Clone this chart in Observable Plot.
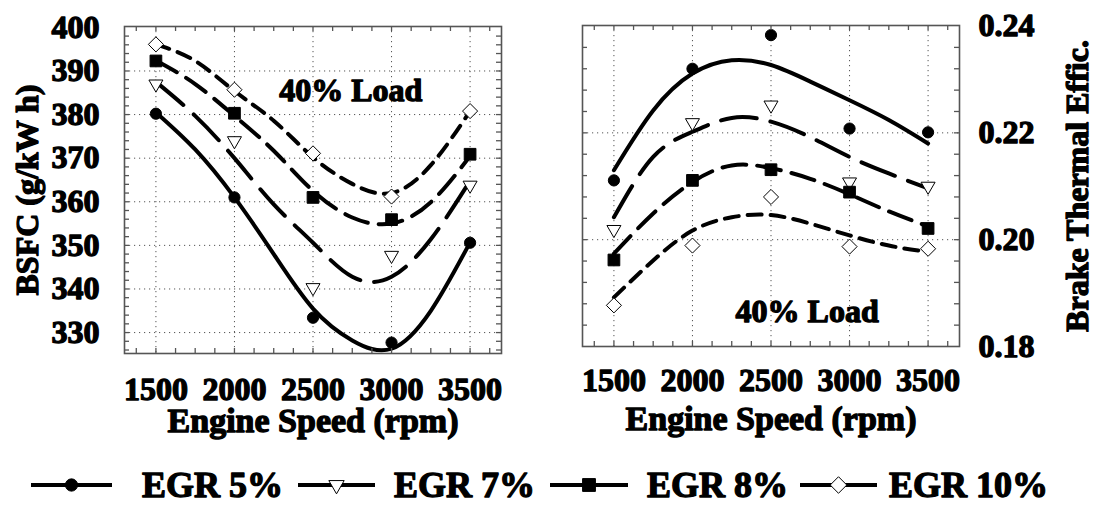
<!DOCTYPE html>
<html><head><meta charset="utf-8">
<script src="https://cdn.jsdelivr.net/npm/d3@7"></script>
<script src="https://cdn.jsdelivr.net/npm/@observablehq/plot@0.6"></script>
<style>
html,body{margin:0;padding:0;background:#fff;}
#wrap{position:relative;width:1094px;height:507px;overflow:hidden;background:#fff;font-family:"Liberation Serif","Times New Roman",serif;font-weight:bold;color:#000;}
#wrap svg{position:absolute;overflow:visible;}
#wrap svg text{stroke:#000 !important;stroke-width:1.3px !important;stroke-linejoin:round;}
</style></head><body><div id="wrap"></div>
<script>
// ---- data ----
const series = ["EGR 5%", "EGR 7%", "EGR 8%", "EGR 10%"];
const rpm = [1500, 2000, 2500, 3000, 3500];
// BSFC (g/kW h) measured points
const bsfc5  = [380.2, 361.0, 333.4, 327.7, 350.6];
const bsfc7  = [387.0, 374.0, 340.3, 347.7, 363.8];
const bsfc8  = [392.3, 380.3, 361.0, 355.9, 370.9];
const bsfc10 = [396.1, 385.7, 371.1, 361.2, 380.8];
// Brake thermal efficiency measured points
const bte5  = [0.2111, 0.2320, 0.2383, 0.2208, 0.2201];
const bte7  = [0.2019, 0.2219, 0.2252, 0.2108, 0.2100];
const bte8  = [0.1962, 0.2111, 0.2131, 0.2089, 0.2021];
const bte10 = [0.1877, 0.1989, 0.2080, 0.1987, 0.1983];
// fitted trend curves
const fitRpm = [1500, 1750, 2000, 2250, 2500, 2750, 3000, 3250, 3500];
const bsfcFit5  = [380.5, 372.0, 361.0, 348.0, 335.5, 328.2, 326.3, 335.0, 350.7];
const bsfcFit7  = [387.5, 379.7, 370.0, 359.4, 350.6, 342.8, 342.8, 351.4, 364.8];
const bsfcFit8  = [392.4, 387.0, 379.7, 371.7, 362.5, 356.4, 355.0, 359.9, 370.5];
const bsfcFit10 = [396.1, 392.3, 385.4, 378.6, 370.2, 364.1, 362.0, 368.4, 380.8];
const bteFit5  = [0.2130, 0.2242, 0.2311, 0.2336, 0.2327, 0.2296, 0.2261, 0.2224, 0.2180];
const bteFit7  = [0.2042, 0.2155, 0.2202, 0.2228, 0.2221, 0.2192, 0.2155, 0.2124, 0.2096];
const bteFit8  = [0.1974, 0.2049, 0.2108, 0.2139, 0.2134, 0.2114, 0.2085, 0.2053, 0.2025];
const bteFit10 = [0.1892, 0.1961, 0.2017, 0.2042, 0.2046, 0.2030, 0.2008, 0.1989, 0.1977];
// axis ticks
const rpmTicks = [1500, 2000, 2500, 3000, 3500];
const rpmMinor = [1375, 1500, 1625, 1750, 1875, 2000, 2125, 2250, 2375, 2500, 2625, 2750, 2875, 3000, 3125, 3250, 3375, 3500, 3625];
const bsfcTicks = [330, 340, 350, 360, 370, 380, 390, 400];
const bsfcMinor = [326, 328, 330, 332, 334, 336, 338, 340, 342, 344, 346, 348, 350, 352, 354, 356, 358, 360, 362, 364, 366, 368, 370, 372, 374, 376, 378, 380, 382, 384, 386, 388, 390, 392, 394, 396, 398];
const bteTicks = [0.18, 0.20, 0.22, 0.24];
const bteGrid = [0.20, 0.22];
const bteMinor = [0.184, 0.188, 0.192, 0.196, 0.200, 0.204, 0.208, 0.212, 0.216, 0.220, 0.224, 0.228, 0.232, 0.236];

// ---- tables ----
const bsfcVals = [bsfc5, bsfc7, bsfc8, bsfc10];
const bteVals = [bte5, bte7, bte8, bte10];
const bsfcFits = [bsfcFit5, bsfcFit7, bsfcFit8, bsfcFit10];
const bteFits = [bteFit5, bteFit7, bteFit8, bteFit10];
const table = (xs, arrs) => series.flatMap((s, i) => xs.map((x, j) => ({series: s, x, v: arrs[i][j]})));
const bsfcPts = table(rpm, bsfcVals), btePts = table(rpm, bteVals);
const bsfcFit = table(fitRpm, bsfcFits), bteFit = table(fitRpm, bteFits);

// ---- styles ----
const sty = {
  "EGR 5%":  {dash: "none",  symbol: "circle",   fill: "black", r: 5.6, rotate: 0},
  "EGR 7%":  {dash: "36,14", symbol: "triangle", fill: "white", r: 5.2, rotate: 180},
  "EGR 8%":  {dash: "24,11", symbol: "square",   fill: "black", r: 6.6, rotate: 0},
  "EGR 10%": {dash: "14,9",  symbol: "diamond2", fill: "white", r: 6.8, rotate: 0}
};
const FONT = "'Liberation Serif','Times New Roman',serif";
const GRID = {stroke: "#555", strokeWidth: 1, strokeDasharray: "1.2,3.8"};
const EDGE = "#555";
const TICKFS = 32, LABFS = 34;

function seriesMarks(pts, fits) {
  const m = [];
  for (const s of series) {
    const st = sty[s];
    m.push(Plot.line(fits.filter(d => d.series === s), {x: "x", y: "v", curve: "natural", stroke: "black", strokeWidth: 4, strokeDasharray: st.dash}));
  }
  for (const s of series) {
    const st = sty[s];
    m.push(Plot.dot(pts.filter(d => d.series === s), {x: "x", y: "v", symbol: st.symbol, r: st.r, rotate: st.rotate, fill: st.fill, stroke: "black", strokeWidth: 1}));
  }
  return m;
}
function edgeTicks(xMinor, yMinor, fw, fh) {
  const t = {stroke: EDGE, strokeWidth: 1.3};
  return [
    Plot.tickX(xMinor, {x: d => d, insetBottom: fh - 5, ...t}),
    Plot.tickX(xMinor, {x: d => d, insetTop: fh - 5, ...t}),
    Plot.tickY(yMinor, {y: d => d, insetRight: fw - 5, ...t}),
    Plot.tickY(yMinor, {y: d => d, insetLeft: fw - 5, ...t})
  ];
}
const txt = {fill: "black", textAnchor: "middle", lineAnchor: "middle"};

const wrap = document.getElementById("wrap");

// ---- left panel: BSFC ----
{
  const W = 540, H = 450, mL = 124, mR = 39, mT = 26, mB = 97;
  const p = Plot.plot({
    width: W, height: H, marginLeft: mL, marginRight: mR, marginTop: mT, marginBottom: mB,
    style: {fontFamily: FONT, fontWeight: "bold", color: "black", background: "transparent", overflow: "visible"},
    x: {domain: [1300, 3700]},
    y: {domain: [325.2, 400.2]},
    marks: [
      Plot.ruleX(rpmTicks, GRID),
      Plot.ruleY(bsfcTicks.filter(d => d < 400), GRID),
      ...seriesMarks(bsfcPts, bsfcFit),
      ...edgeTicks(rpmMinor, bsfcMinor, W - mL - mR, H - mT - mB),
      Plot.frame({stroke: EDGE, strokeWidth: 1.6}),
      Plot.axisX(rpmTicks, {tickSize: 0, tickPadding: 24, fontSize: TICKFS, label: null, tickFormat: d => String(d)}),
      Plot.axisY(bsfcTicks, {tickSize: 0, tickPadding: 25, fontSize: TICKFS, label: null}),
      Plot.text(["Engine Speed (rpm)"], {frameAnchor: "bottom", dy: 68, fontSize: LABFS, ...txt}),
      Plot.text(["BSFC (g/kW h)"], {frameAnchor: "left", dx: -97, rotate: -90, fontSize: 32, ...txt}),
      Plot.text(["40% Load"], {x: 2740, y: 385.5, fontSize: 32, ...txt})
    ]
  });
  p.style.left = "0px"; p.style.top = "0px";
  wrap.appendChild(p);
}

// ---- right panel: Brake thermal efficiency ----
{
  const W = 554, H = 450, mL = 42, mR = 135, mT = 25, mB = 104;
  const p = Plot.plot({
    width: W, height: H, marginLeft: mL, marginRight: mR, marginTop: mT, marginBottom: mB,
    style: {fontFamily: FONT, fontWeight: "bold", color: "black", background: "transparent", overflow: "visible"},
    x: {domain: [1300, 3700]},
    y: {domain: [0.18, 0.2401]},
    marks: [
      Plot.ruleX(rpmTicks, GRID),
      Plot.ruleY(bteGrid, GRID),
      ...seriesMarks(btePts, bteFit),
      ...edgeTicks(rpmMinor, bteMinor, W - mL - mR, H - mT - mB),
      Plot.frame({stroke: EDGE, strokeWidth: 1.6}),
      Plot.axisX(rpmTicks, {tickSize: 0, tickPadding: 22, fontSize: TICKFS, label: null, tickFormat: d => String(d)}),
      Plot.axisY(bteTicks, {anchor: "right", tickSize: 0, tickPadding: 19, fontSize: TICKFS, label: null, tickFormat: d => d.toFixed(2)}),
      Plot.text(["Engine Speed (rpm)"], {frameAnchor: "bottom", dy: 73, fontSize: LABFS, ...txt}),
      Plot.text(["Brake Thermal Effic."], {frameAnchor: "right", dx: 118, rotate: -90, fontSize: 32, ...txt}),
      Plot.text(["40% Load"], {x: 2730, y: 0.18655, fontSize: 32, ...txt})
    ]
  });
  p.style.left = "540px"; p.style.top = "0px";
  wrap.appendChild(p);
}

// ---- legend ----
{
  const legendPos = [
    {x1: 31, x2: 112, tx: 142},
    {x1: 298, x2: 375, tx: 394},
    {x1: 550, x2: 628, tx: 647},
    {x1: 800, x2: 877, tx: 889}
  ];
  const ly = 485, tyBase = 497;
  const svg = d3.create("svg").attr("width", 1094).attr("height", 507)
    .style("left", "0px").style("top", "0px");
  const symMap = {circle: d3.symbolCircle, triangle: d3.symbolTriangle, square: d3.symbolSquare, diamond2: d3.symbolDiamond2};
  series.forEach((s, i) => {
    const st = sty[s], pos = legendPos[i];
    svg.append("line").attr("x1", pos.x1).attr("x2", pos.x2).attr("y1", ly).attr("y2", ly)
      .attr("stroke", "black").attr("stroke-width", 4);
    svg.append("path").attr("d", d3.symbol(symMap[st.symbol], Math.PI * st.r * st.r * 1.2)())
      .attr("transform", `translate(${(pos.x1 + pos.x2) / 2},${ly}) rotate(${st.rotate})`)
      .attr("fill", st.fill).attr("stroke", "black").attr("stroke-width", 1);
    svg.append("text").attr("x", pos.tx).attr("y", tyBase).text(s)
      .attr("font-family", FONT).attr("font-weight", "bold").attr("font-size", 36).attr("fill", "black");
  });
  wrap.appendChild(svg.node());
}
</script>
</body></html>
